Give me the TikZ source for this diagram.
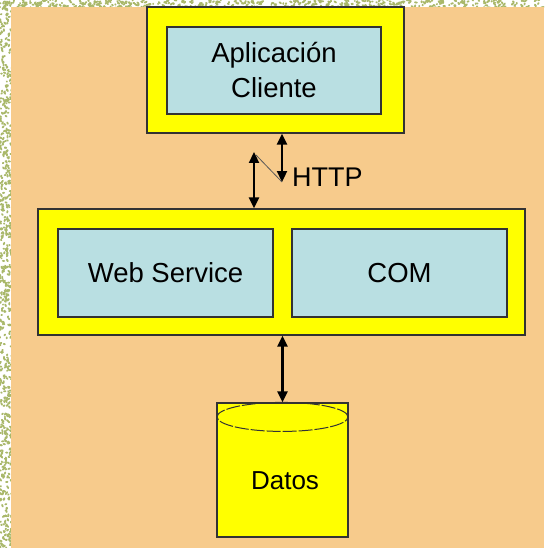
\documentclass[tikz,border=0pt]{standalone}
\usepackage{fontspec}
\setmainfont{Liberation Sans}
\usetikzlibrary{arrows.meta,calc}
\definecolor{bgorange}{HTML}{F7CB8C}
\definecolor{boxyellow}{HTML}{FFFF00}
\definecolor{boxblue}{HTML}{B9DFE2}
\definecolor{edge}{HTML}{333333}
\definecolor{texgreen}{HTML}{A9B86A}
\tikzset{
  outerbox/.style={draw=edge, line width=1.3pt, fill=boxyellow, inner sep=0pt},
  innerbox/.style={draw=edge, line width=1.1pt, fill=boxblue, inner sep=0pt, align=center,
    font=\fontsize{27.5}{35}\selectfont},
  dbbox/.style={draw=edge, line width=1.2pt, fill=boxyellow, inner sep=0pt},
  arr/.style={line width=2.3pt, black, {Triangle[length=11pt,width=10pt]}-{Triangle[length=11pt,width=10pt]}},
  texture/.style={texgreen, line width=1.8pt, line cap=round}
}
\begin{document}
\begin{tikzpicture}[x=1pt,y=-1pt]
\useasboundingbox (0,0) rectangle (544,548);
% background and textured border
\fill[white] (0,0) rectangle (544,548);
\pgfmathsetseed{42}
\foreach \i in {1,...,650}{
  \pgfmathsetmacro\xx{rnd*12}
  \pgfmathsetmacro\yy{rnd*548}
  \pgfmathsetmacro\dx{rnd*3-1.5}
  \pgfmathsetmacro\dy{rnd*4-2}
  \draw[texture] (\xx,\yy) -- ++(\dx,\dy);
}
\foreach \i in {1,...,500}{
  \pgfmathsetmacro\xx{rnd*544}
  \pgfmathsetmacro\yy{rnd*8}
  \pgfmathsetmacro\dx{rnd*4-2}
  \pgfmathsetmacro\dy{rnd*3-1.5}
  \draw[texture] (\xx,\yy) -- ++(\dx,\dy);
}
\fill[bgorange] (11,7) rectangle (544,548);

% top box
\node[outerbox, minimum width=257pt, minimum height=126pt] (top) at (275.5,70) {};
\node[innerbox, minimum width=214pt, minimum height=87pt] (client) at (274,70.5) {Aplicación\\Cliente};

% middle box
\node[outerbox, minimum width=487pt, minimum height=126pt] (mid) at (281.5,272) {};
\node[innerbox, minimum width=215pt, minimum height=88pt] (ws) at (165.5,273) {Web Service};
\node[innerbox, minimum width=215pt, minimum height=88pt] (com) at (399.5,273) {COM};

% database cylinder
\node[dbbox, minimum width=131pt, minimum height=134pt] (db) at (282.5,470) {};
\draw[edge, line width=1pt, dash pattern=on 14pt off 2pt] (db.north) ++(0,14.5) coordinate (dbtop)
  ellipse [x radius=65.5pt, y radius=14.5pt];
\node[font=\fontsize{26}{30}\selectfont] (datos) at (285,481) {Datos};

% HTTP connectors
\coordinate (h1) at (282,182);
\coordinate (h2) at (254,152);
\draw[arr] (h1 |- top.south) -- (h1);
\draw[arr] (h2) -- (h2 |- mid.north);
\draw[gray!70!black, line width=0.8pt] ($(h2)+(2,3)$) -- (h1);
\node[anchor=west, font=\fontsize{27}{30}\selectfont, inner sep=0pt] (http) at (292,177) {HTTP};

% data connector
\draw[arr] (mid.south -| db.north) -- (db.north);
\end{tikzpicture}
\end{document}
